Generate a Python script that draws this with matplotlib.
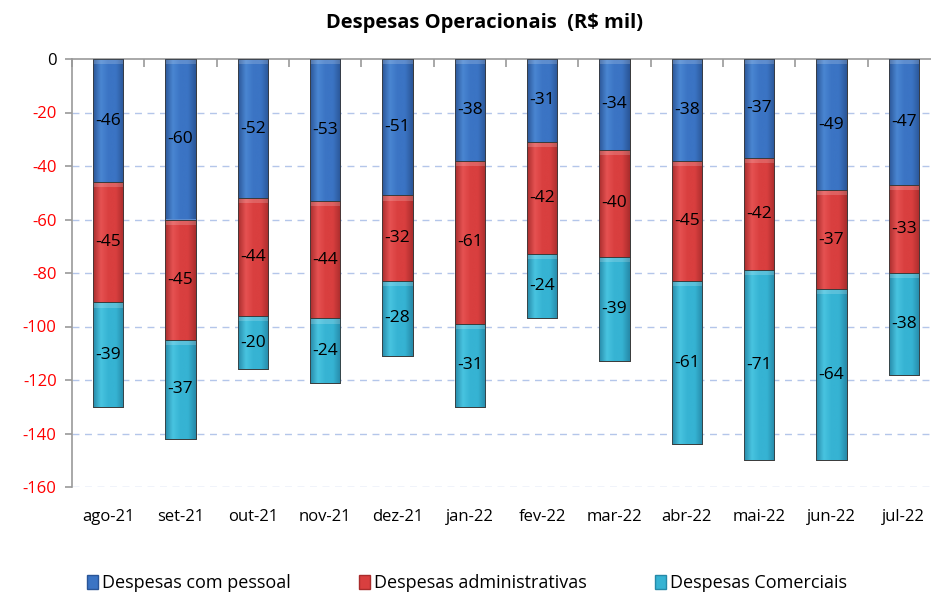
import numpy as np
import matplotlib
matplotlib.use("Agg")
import matplotlib.pyplot as plt
from matplotlib.colors import LinearSegmentedColormap
from matplotlib.patches import Rectangle, Patch

months = ["ago-21", "set-21", "out-21", "nov-21", "dez-21", "jan-22",
          "fev-22", "mar-22", "abr-22", "mai-22", "jun-22", "jul-22"]
pessoal = [-46, -60, -52, -53, -51, -38, -31, -34, -38, -37, -49, -47]
administrativas = [-45, -45, -44, -44, -32, -61, -42, -40, -45, -42, -37, -33]
comerciais = [-39, -37, -20, -24, -28, -31, -24, -39, -61, -71, -64, -38]
series_names = ["Despesas com pessoal", "Despesas administrativas", "Despesas Comerciais"]
yticks = [0, -20, -40, -60, -80, -100, -120, -140, -160]

plt.rcParams['font.family'] = ['Open Sans', 'DejaVu Sans']

# (edge, mid, light) colours per series
palettes = [
    ("#2a5597", "#3b74c4", "#4a86d2"),
    ("#a92c2c", "#d93f3f", "#e65252"),
    ("#2689a8", "#36b3d3", "#48c4e0"),
]

fig = plt.figure(figsize=(9.31, 5.95), dpi=100)
ax = fig.add_axes([72/931, 1-487/595, 868/931, (487-59)/595])

x = np.arange(len(months))
width = 0.42
data = [pessoal, administrativas, comerciais]
bottom = np.zeros(len(months))
for vals, pal, name in zip(data, palettes, series_names):
    vals = np.array(vals, dtype=float)
    bars = ax.bar(x, vals, width, bottom=bottom, color=pal[1],
                  edgecolor="#3a3a3a", linewidth=0.6, label=name, zorder=3)
    cmap = LinearSegmentedColormap.from_list("g", [pal[0], pal[2], pal[1], pal[1], pal[0]])
    grad = np.linspace(0, 1, 64).reshape(1, -1)
    for b in bars:
        x0, y0 = b.get_x(), b.get_y()
        w, h = b.get_width(), b.get_height()
        ylo, yhi = min(y0, y0 + h), max(y0, y0 + h)
        im = ax.imshow(grad, cmap=cmap, aspect="auto",
                       extent=(x0, x0 + w, ylo, yhi), zorder=3.1,
                       interpolation="bicubic")
        im.set_clip_path(b)
        hl = Rectangle((x0, yhi - 1.9), w, 1.9, facecolor="white",
                       alpha=0.18, edgecolor="none", zorder=3.2)
        ax.add_patch(hl)
        ax.add_patch(Rectangle((x0, ylo), w, yhi - ylo, facecolor="none",
                               edgecolor="#3a3a3a", linewidth=0.6, zorder=3.3))
    for xi, bt, v in zip(x, bottom, vals):
        ax.text(xi, bt + v / 2, f"{int(v)}", ha="center", va="center",
                fontsize=12.5, color="black", zorder=4)
    bottom = bottom + vals

ax.set_xlim(-0.5, len(months) - 0.5)
ax.set_ylim(-160, 0)
ax.set_yticks(yticks)
ax.set_yticklabels([str(t) for t in yticks], fontsize=12)
for lbl, t in zip(ax.get_yticklabels(), yticks):
    lbl.set_color("black" if t == 0 else "red")

ax.set_xticks(x)
ax.set_xticklabels(months, fontsize=12)
ax.tick_params(axis="x", which="major", length=0, pad=16)
ax.set_xticks(np.arange(-0.5, len(months) + 0.5, 1), minor=True)
ax.tick_params(axis="x", which="minor", top=True, bottom=False, direction="in",
               length=6, color="#999999", width=1.2)
ax.tick_params(axis="y", length=5, color="#999999", width=1.2, pad=6)

for t in yticks[1:]:
    ax.axhline(t, color="#b4c6ea", linestyle=(0, (5, 4)), linewidth=1.0, zorder=1)

for s in ["right", "bottom"]:
    ax.spines[s].set_visible(False)
ax.spines["left"].set_color("#999999")
ax.spines["left"].set_linewidth(1.2)
ax.spines["top"].set_color("#999999")
ax.spines["top"].set_linewidth(1.2)

fig.text(484/931, 1-23/595, "Despesas Operacionais  (R$ mil)", ha="center",
         va="center", fontsize=14.5, fontweight="bold")

handles = [Patch(facecolor=p[1], edgecolor=p[0]) for p in palettes]
fig.legend(handles, series_names, loc="center", ncol=3,
           bbox_to_anchor=(467/931, 1-583/595), frameon=False, fontsize=13,
           handlelength=0.6, handleheight=0.8, handletextpad=0.2,
           columnspacing=3.8, borderpad=0.1)

fig.savefig("out.png", dpi=100)
